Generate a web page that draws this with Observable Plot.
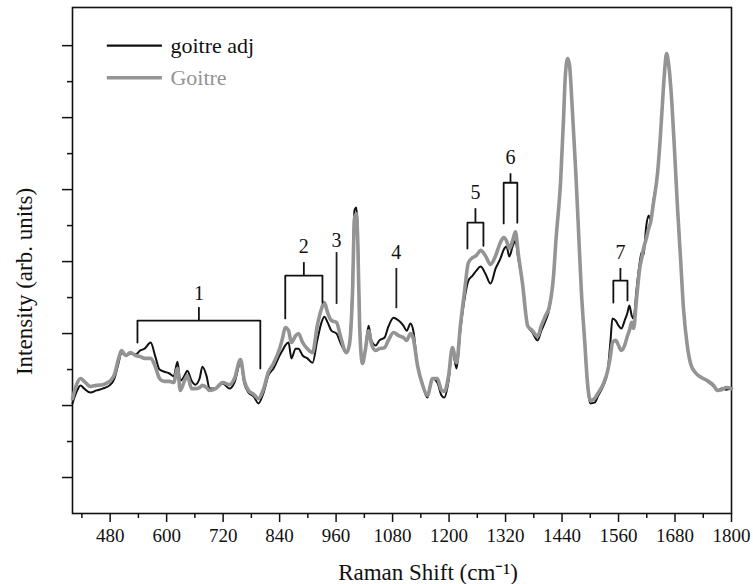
<!DOCTYPE html>
<html>
<head>
<meta charset="utf-8">
<script src="https://cdn.jsdelivr.net/npm/d3@7"></script>
<script src="https://cdn.jsdelivr.net/npm/@observablehq/plot@0.6"></script>
<style>
  body { margin: 0; background: #fff; }
</style>
</head>
<body>
<div id="chart"></div>
<script>
// Raman shift positions (cm^-1)
const shift = [
  400, 408, 417, 425, 438, 451, 464, 479, 489, 498, 504, 513, 523, 534, 544, 553, 566, 576, 585, 595,
  606, 615, 623, 629, 638, 644, 653, 661, 670, 676, 685, 691, 704, 719, 734, 744, 757, 765, 774, 785,
  795, 806, 816, 827, 840, 846, 852, 859, 865, 874, 880, 889, 899, 910, 920, 929, 935, 942, 950, 961,
  969, 982, 988, 995, 999, 1003, 1006, 1010, 1016, 1022, 1029, 1035, 1044, 1052, 1063, 1071, 1082, 1093, 1103, 1110,
  1118, 1124, 1133, 1144, 1154, 1165, 1175, 1184, 1190, 1199, 1207, 1216, 1224, 1233, 1241, 1250, 1258, 1267, 1277, 1288,
  1299, 1309, 1316, 1322, 1328, 1335, 1341, 1347, 1356, 1367, 1377, 1388, 1396, 1405, 1413, 1422, 1427, 1437, 1443, 1447,
  1452, 1456, 1462, 1469, 1475, 1481, 1488, 1494, 1500, 1509, 1517, 1528, 1537, 1543, 1547, 1554, 1560, 1566, 1573, 1579,
  1583, 1588, 1592, 1598, 1605, 1609, 1613, 1619, 1624, 1628, 1634, 1643, 1649, 1653, 1658, 1662, 1666, 1673, 1679, 1685,
  1692, 1698, 1706, 1713, 1723, 1736, 1749, 1762, 1770, 1779, 1789, 1800
];

// Intensity, adjacent tissue (arb. units)
const goitreAdj = [
  3.06, 3.36, 3.56, 3.47, 3.36, 3.42, 3.47, 3.56, 3.75, 4.19, 4.47, 4.39, 4.44, 4.42, 4.53, 4.58, 4.75, 4.36, 4.00, 3.94,
  3.89, 3.81, 4.22, 3.69, 3.83, 3.97, 3.69, 3.58, 3.75, 4.08, 3.81, 3.47, 3.47, 3.61, 3.47, 3.64, 4.19, 3.61, 3.36, 3.25,
  3.06, 3.36, 3.83, 4.03, 4.39, 4.53, 4.67, 4.75, 4.31, 4.58, 4.58, 4.39, 4.31, 4.19, 4.81, 5.31, 5.47, 5.31, 5.08, 5.00,
  4.75, 4.47, 4.67, 6.47, 8.42, 8.50, 7.86, 5.36, 4.19, 4.58, 5.22, 4.81, 4.67, 4.81, 4.89, 5.19, 5.44, 5.36, 5.22, 5.08,
  5.28, 5.08, 4.11, 3.56, 3.22, 3.75, 3.64, 3.28, 3.22, 3.69, 4.53, 4.03, 5.08, 5.97, 6.47, 6.61, 6.75, 6.86, 6.67, 6.39,
  6.81, 7.08, 7.33, 7.42, 7.14, 7.42, 7.58, 7.08, 6.39, 5.22, 5.03, 4.81, 5.08, 5.36, 5.69, 6.61, 7.58, 9.25, 10.92, 12.17,
  12.64, 12.44, 11.19, 9.53, 7.86, 6.19, 4.81, 3.56, 3.06, 3.08, 3.28, 3.56, 3.97, 4.81, 5.42, 5.36, 5.22, 5.14, 5.36, 5.58,
  5.78, 5.50, 5.42, 6.19, 6.97, 7.25, 7.17, 8.00, 8.28, 8.14, 8.69, 9.47, 10.50, 11.33, 12.31, 12.78, 12.53, 11.47, 10.08, 8.56,
  7.03, 5.69, 4.67, 4.17, 3.92, 3.78, 3.67, 3.53, 3.42, 3.47, 3.44, 3.47
];

// Intensity, goitre tissue (arb. units)
const goitre = [
  3.19, 3.56, 3.75, 3.67, 3.53, 3.56, 3.58, 3.67, 3.86, 4.31, 4.53, 4.39, 4.47, 4.39, 4.36, 4.31, 4.31, 4.08, 3.75, 3.67,
  3.67, 3.64, 4.03, 3.42, 3.69, 3.83, 3.47, 3.47, 3.50, 3.56, 3.50, 3.42, 3.47, 3.64, 3.58, 3.75, 4.28, 3.69, 3.42, 3.31,
  3.19, 3.47, 3.92, 4.17, 4.58, 4.86, 5.17, 5.08, 4.75, 4.94, 5.00, 4.75, 4.58, 4.47, 5.22, 5.69, 5.86, 5.58, 5.36, 5.31,
  4.94, 4.47, 4.67, 6.19, 8.19, 8.33, 7.58, 5.22, 4.17, 4.53, 5.08, 4.72, 4.53, 4.58, 4.61, 4.81, 5.03, 4.94, 4.89, 4.81,
  5.00, 4.86, 4.11, 3.56, 3.28, 3.75, 3.75, 3.42, 3.39, 3.83, 4.61, 4.19, 5.22, 6.19, 6.97, 7.11, 7.17, 7.31, 7.17, 6.92,
  7.17, 7.53, 7.67, 7.58, 7.36, 7.58, 7.83, 7.22, 6.39, 5.22, 5.08, 4.92, 5.22, 5.50, 5.75, 6.61, 7.58, 9.25, 10.92, 12.17,
  12.64, 12.44, 11.19, 9.53, 7.86, 6.19, 4.81, 3.64, 3.14, 3.19, 3.36, 3.61, 3.97, 4.39, 4.75, 4.81, 4.67, 4.53, 4.67, 4.94,
  5.08, 5.31, 5.14, 5.92, 6.81, 7.08, 7.36, 7.64, 7.92, 8.08, 8.61, 9.47, 10.50, 11.33, 12.31, 12.78, 12.53, 11.47, 10.08, 8.56,
  7.03, 5.69, 4.67, 4.17, 3.92, 3.78, 3.69, 3.56, 3.42, 3.44, 3.50, 3.47
];

// Axis ticks
const xTicks = [480, 600, 720, 840, 960, 1080, 1200, 1320, 1440, 1560, 1680, 1800];
const xMinorTicks = [420, 540, 660, 780, 900, 1020, 1140, 1260, 1380, 1500, 1620, 1740];
const yMajorTicks = [1, 3, 5, 7, 9, 11, 13];
const yMinorTicks = [2, 4, 6, 8, 10, 12];

// Band brackets: label, span, bar level, leg ends, centre tick top, label level
const bracketLabels = ["1", "2", "5", "6", "7"];
const bracketStart  = [538, 852, 1239, 1316, 1549];
const bracketEnd    = [799, 931, 1273, 1345, 1579];
const bracketBar    = [5.36, 6.61, 8.08, 9.19, 6.47];
const bracketLeftEnd  = [4.75, 5.42, 7.36, 8.06, 5.86];
const bracketRightEnd = [4.03, 5.86, 7.44, 8.08, 5.92];
const bracketTickTop  = [5.72, 6.97, 8.47, 9.44, 6.81];
const bracketLabelY   = [6.11, 7.42, 8.92, 9.89, 7.25];

// Single-band markers
const markerLabels = ["3", "4"];
const markerX      = [961, 1088];
const markerBottom = [5.81, 5.69];
const markerTop    = [7.25, 6.81];
const markerLabelY = [7.58, 7.25];

const seriesNames = ["goitre adj", "Goitre"];
const seriesColors = ["#111111", "#949494"];

const adjRows = shift.map((x, i) => ({x, y: goitreAdj[i]}));
const goiRows = shift.map((x, i) => ({x, y: goitre[i]}));

// Bracket geometry as polylines grouped by id
const bracketPaths = [];
const bracketTicks = [];
bracketLabels.forEach((lab, i) => {
  const a = bracketStart[i], b = bracketEnd[i], m = (a + b) / 2;
  bracketPaths.push({id: lab, x: a, y: bracketLeftEnd[i]});
  bracketPaths.push({id: lab, x: a, y: bracketBar[i]});
  bracketPaths.push({id: lab, x: b, y: bracketBar[i]});
  bracketPaths.push({id: lab, x: b, y: bracketRightEnd[i]});
  bracketTicks.push({x: m, y1: bracketBar[i], y2: bracketTickTop[i], ly: bracketLabelY[i], label: lab});
});
const markers = markerLabels.map((lab, i) => ({x: markerX[i], y1: markerBottom[i], y2: markerTop[i], ly: markerLabelY[i], label: lab}));
const numberLabels = bracketTicks.concat(markers);

// Legend entries placed in the upper-left of the frame
const legendRows = seriesNames.map((name, i) => ({name, color: seriesColors[i], y: 13.0 - i * 0.89}));

const serif = "'Liberation Serif', 'Times New Roman', serif";

const chart = Plot.plot({
  width: 753,
  height: 584,
  marginLeft: 72,
  marginRight: 22,
  marginTop: 7,
  marginBottom: 71,
  style: {fontFamily: serif, fontSize: "19px", background: "#fff", color: "#111"},
  x: {domain: [400, 1800]},
  y: {domain: [0, 14.06]},
  marks: [
    // axes
    Plot.axisX(xTicks, {tickSize: 9, tickPadding: 6, strokeWidth: 1.5, fontSize: 19, fontFamily: serif, tickFormat: d => String(d), label: null}),
    Plot.axisX(xMinorTicks, {tickSize: 5, strokeWidth: 1.5, tickFormat: () => "", label: null}),
    Plot.axisY(yMajorTicks, {tickSize: 10, strokeWidth: 1.5, tickFormat: () => "", label: null}),
    Plot.axisY(yMinorTicks, {tickSize: 5, strokeWidth: 1.5, tickFormat: () => "", label: null}),
    Plot.frame({stroke: "#111", strokeWidth: 1.6}),

    // spectra
    Plot.line(adjRows, {x: "x", y: "y", stroke: seriesColors[0], strokeWidth: 2, curve: "monotone-x"}),
    Plot.line(goiRows, {x: "x", y: "y", stroke: seriesColors[1], strokeWidth: 3.6, curve: "monotone-x"}),

    // band annotations
    Plot.line(bracketPaths, {x: "x", y: "y", z: "id", stroke: "#111", strokeWidth: 1.8}),
    Plot.ruleX(bracketTicks, {x: "x", y1: "y1", y2: "y2", stroke: "#111", strokeWidth: 1.8}),
    Plot.ruleX(markers, {x: "x", y1: "y1", y2: "y2", stroke: "#222", strokeWidth: 1.8}),
    Plot.text(numberLabels, {x: "x", y: "ly", text: "label", fontSize: 20, fill: "#111", fontFamily: serif}),

    // legend
    Plot.ruleY(legendRows.slice(0, 1), {y: "y", x1: 474, x2: 591, stroke: seriesColors[0], strokeWidth: 2.4}),
    Plot.ruleY(legendRows.slice(1), {y: "y", x1: 474, x2: 591, stroke: seriesColors[1], strokeWidth: 3.6}),
    Plot.text(legendRows, {x: 608, y: "y", text: "name", fill: "color", textAnchor: "start", fontSize: 22, fontFamily: serif}),

    // axis titles
    Plot.text(["Raman Shift (cm⁻¹)"], {frameAnchor: "bottom", textAnchor: "middle", lineAnchor: "middle", dx: 26, dy: 59, fontSize: 23, fill: "#111", fontFamily: serif}),
    Plot.text(["Intensity (arb. units)"], {frameAnchor: "left", textAnchor: "middle", lineAnchor: "middle", dx: -48, dy: 21, rotate: -90, fontSize: 23, fill: "#111", fontFamily: serif})
  ]
});

document.getElementById("chart").appendChild(chart);
</script>
</body>
</html>
